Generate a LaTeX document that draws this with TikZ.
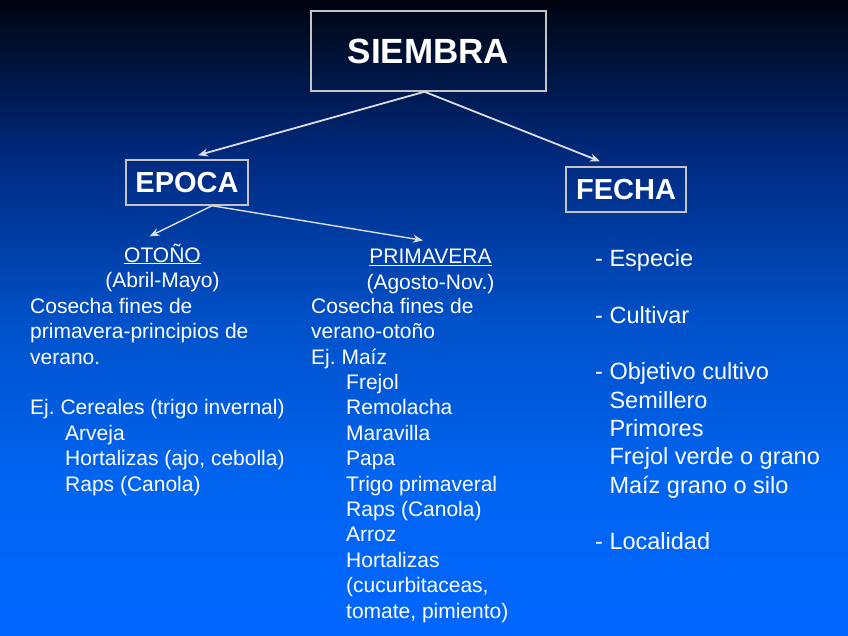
\documentclass[tikz,border=0pt]{standalone}
\usepackage{fontspec}
\setmainfont{Liberation Sans}
\frenchspacing
\definecolor{bgtop}{RGB}{0,4,16}
\definecolor{bgmid}{RGB}{0,42,128}
\definecolor{bgcen}{RGB}{0,80,200}
\definecolor{bglow}{RGB}{0,100,240}
\definecolor{bgbottom}{RGB}{0,102,255}
\definecolor{boxline}{HTML}{C4C4C4}
\definecolor{arrowgray}{HTML}{DCDCDC}
\usetikzlibrary{arrows.meta,calc}
\pgfdeclareverticalshading{slidebg}{100bp}{color(0bp)=(bgbottom); color(25bp)=(bgbottom); color(37.5bp)=(bglow); color(50bp)=(bgcen); color(62.5bp)=(bgmid); color(75bp)=(bgtop); color(100bp)=(bgtop)}

\begin{document}
\begin{tikzpicture}[
      x=1pt, y=-1pt,
      box/.style={rectangle, draw=boxline, line width=1.5pt, inner sep=0pt,
                  text=white, font=\bfseries\fontsize{29}{34}\selectfont},
      link/.style={draw=arrowgray, line width=1.8pt, -{Stealth[length=10pt,width=8pt]}},
      head/.style={text=white, inner sep=0pt, anchor=base, font=\fontsize{21}{25.4}\selectfont},
      col/.style={text=white, inner sep=0pt, anchor=north west, align=left,
                  font=\fontsize{21}{25.4}\selectfont},
      list/.style={text=white, inner sep=0pt, anchor=north west, align=left,
                   font=\fontsize{23.5}{28.3}\selectfont},
    ]
    \useasboundingbox (0,0) rectangle (848,636);
    \shade[shading=slidebg] (0,0) rectangle (848,636);

    \node[box, minimum width=235pt, minimum height=80pt, font=\bfseries\fontsize{35}{40}\selectfont]
      (siembra) at (428.5,51) {SIEMBRA};
    \node[box, minimum width=122pt, minimum height=45pt] (epoca) at (187,182.5) {EPOCA};
    \node[box, minimum width=120pt, minimum height=45pt] (fecha) at (626,189.5) {FECHA};

    \node[head] (otono) at (162.5,262) {\underline{OTOÑO}};
    \node[head] (otonomes) at (162.5,287.5) {(Abril-Mayo)};
    \node[col] (otonotxt) at (30,297) {\rule{0pt}{16pt}Cosecha fines de\\primavera-principios de\\verano.\\[25.4pt]
      Ej. Cereales (trigo invernal)\\\hspace*{35pt}Arveja\\\hspace*{35pt}Hortalizas (ajo, cebolla)\\
      \hspace*{35pt}Raps (Canola)};

    \node[head] (primavera) at (430.5,264) {\underline{PRIMAVERA}};
    \node[head] (primames) at (430.5,289) {(Agosto-Nov.)};
    \node[col] (primatxt) at (311,297) {\rule{0pt}{16pt}Cosecha fines de\\verano-otoño\\Ej. Maíz\\
      \hspace*{35pt}Frejol\\\hspace*{35pt}Remolacha\\\hspace*{35pt}Maravilla\\\hspace*{35pt}Papa\\
      \hspace*{35pt}Trigo primaveral\\\hspace*{35pt}Raps (Canola)\\\hspace*{35pt}Arroz\\
      \hspace*{35pt}Hortalizas\\\hspace*{35pt}(cucurbitaceas,\\\hspace*{35pt}tomate, pimiento)};

    \node[list] (factores) at (595,248.5) {\rule{0pt}{18pt}- Especie\\[28.3pt]- Cultivar\\[28.3pt]- Objetivo cultivo\\
      \hphantom{- }Semillero\\\hphantom{- }Primores\\\hphantom{- }Frejol verde o grano\\
      \hphantom{- }Maíz grano o silo\\[28.3pt]- Localidad};

    \draw[link] ([xshift=-4pt]siembra.south) -- ([xshift=11pt,yshift=4pt]epoca.north);
    \draw[link] ([xshift=-4pt]siembra.south) -- ([xshift=-26pt,yshift=5pt]fecha.north);
    \draw[link, line width=1.4pt] ([xshift=25pt]epoca.south) -- ([xshift=-13pt,yshift=7pt]otono.north);
    \draw[link, line width=1.4pt] ([xshift=25pt]epoca.south) -- ([xshift=-7.5pt,yshift=9pt]primavera.north);
  \end{tikzpicture}
\end{document}
